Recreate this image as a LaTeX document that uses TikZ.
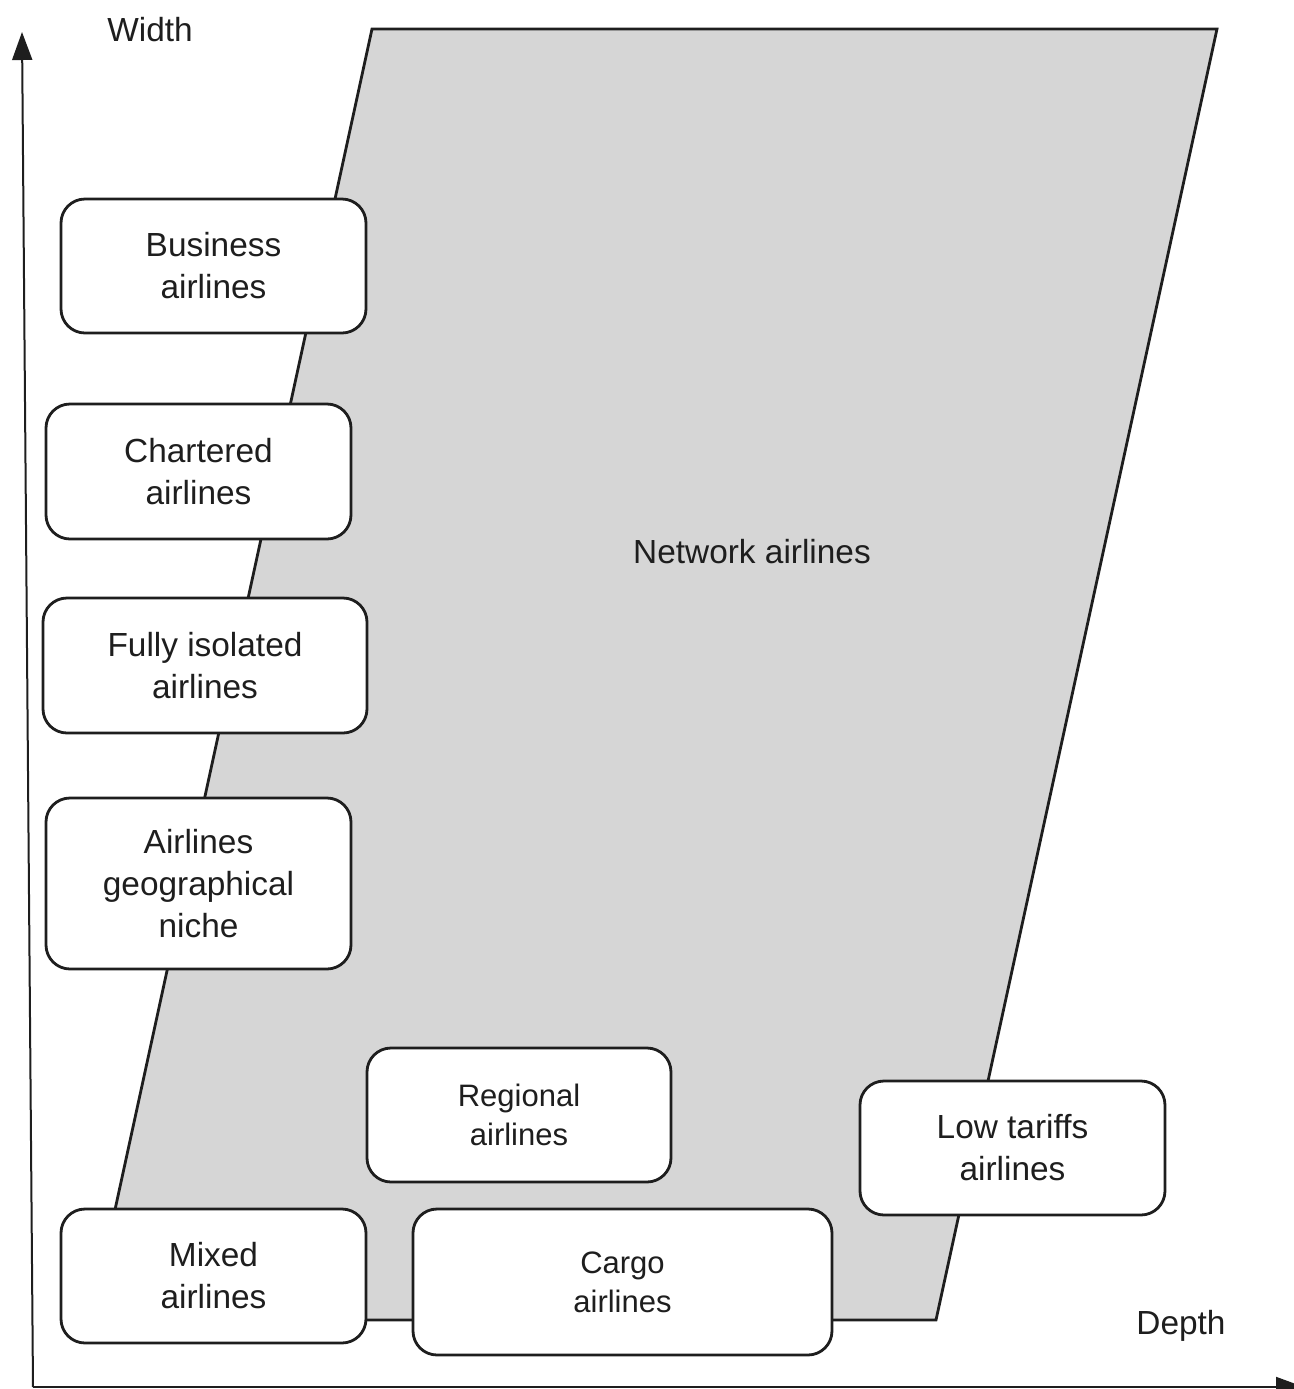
\documentclass[tikz,border=0pt]{standalone}
\usepackage{fontspec}
\setmainfont{Liberation Sans}
\usepackage{tikz}
\usetikzlibrary{
	arrows.meta,									% arrow tips
	positioning,									% node placement
}
\definecolor{netgray}{HTML}{D6D6D6}
\definecolor{inkgray}{HTML}{1E1E1E}

\begin{document}
\begin{tikzpicture}[x=0.5pt, y=-0.5pt,
		axis/.style={draw=inkgray, line width=1pt, -{Triangle[length=14pt, width=10pt]}},
		segbox/.style={draw=inkgray, line width=1.4pt, rounded corners=12pt, fill=white,
			align=center, inner sep=0pt, text=inkgray, font=\fontsize{16.7}{21}\selectfont},
		smallseg/.style={segbox, font=\fontsize{15.5}{19.5}\selectfont},
		label/.style={text=inkgray, font=\fontsize{16.7}{21}\selectfont},
	]
	\useasboundingbox (0,0) rectangle (1294,1389);
	% the network area
	\coordinate (nw) at (372,29);
	\coordinate (ne) at (1217,29);
	\coordinate (se) at (936,1320);
	\coordinate (sw) at (91,1320);
	\draw[fill=netgray, draw=inkgray, line width=1.4pt] (nw) -- (ne) -- (se) -- (sw) -- cycle;
	\node[label] (network) at (752,552) {Network airlines};
	% axes
	\coordinate (origin) at (33,1387);
	\coordinate (wtop) at (22,32);
	\coordinate (dend) at (1304,1387);
	\draw[axis] (origin) -- (wtop);
	\draw[axis] (origin) -- (dend);
	\node[label] (width) at (150,30) {Width};
	\node[label] (depth) at (1181,1326) {Depth};
	% segments
	\node[segbox, minimum width=152.5pt, minimum height=67pt] (business) at (213.5,266) {Business\\airlines};
	\node[segbox, minimum width=152.5pt, minimum height=67.5pt] (chartered) at (198.5,471.5) {Chartered\\airlines};
	\node[segbox, minimum width=162pt, minimum height=67.5pt] (isolated) at (205,665.5) {Fully isolated\\airlines};
	\node[segbox, minimum width=152.5pt, minimum height=85.5pt] (niche) at (198.5,883.5) {Airlines\\geographical\\niche};
	\node[smallseg, minimum width=152pt, minimum height=67pt] (regional) at (519,1115) {Regional\\airlines};
	\node[segbox, minimum width=152.5pt, minimum height=67pt] (lowtariff) at (1012.5,1148) {Low tariffs\\airlines};
	\node[segbox, minimum width=152.5pt, minimum height=67pt] (mixed) at (213.5,1276) {Mixed\\airlines};
	\node[smallseg, minimum width=209.5pt, minimum height=73pt] (cargo) at (622.5,1282) {Cargo\\airlines};
\end{tikzpicture}
\end{document}
